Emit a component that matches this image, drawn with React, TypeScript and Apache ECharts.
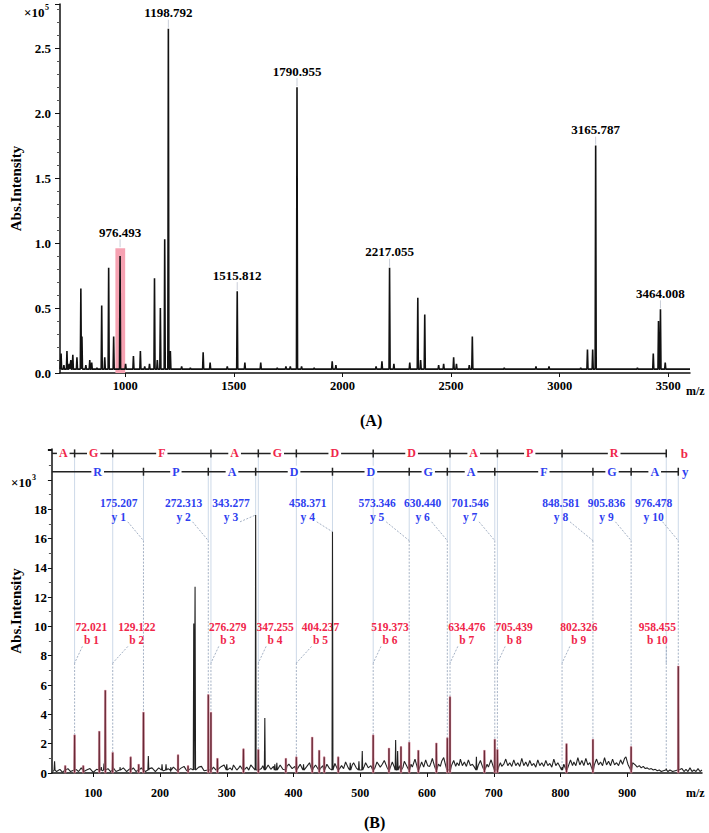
import React, { useEffect, useRef } from 'react';
import * as echarts from 'echarts';

const FONT = '"Liberation Serif", "Times New Roman", Times, serif';
const RED = '#f0264a';
const BLUE = '#2f3ff0';

// ---------------- Panel A : MS spectrum ----------------
const xTicksA = [1000, 1500, 2000, 2500, 3000, 3500];
const peaksA: [number, number][] = [
  [705, 0.15], [718, 0.06], [732, 0.17], [742, 0.07], [750, 0.1], [759, 0.14], [778, 0.12],
  [796, 0.65], [801, 0.28], [819, 0.06], [837, 0.1], [846, 0.08], [870, 0.04], [892, 0.52],
  [906, 0.12], [924, 0.81], [947, 0.28], [1002, 0.07], [1038, 0.13], [1070, 0.17],
  [1090, 0.05], [1112, 0.07], [1135, 0.73], [1148, 0.1], [1162, 0.5], [1182, 1.03], [1208, 0.17],
  [1260, 0.05], [1300, 0.04], [1359, 0.16], [1391, 0.08], [1470, 0.05], [1551, 0.08], [1624, 0.08],
  [1700, 0.04], [1740, 0.05], [1760, 0.05], [1812, 0.05], [1870, 0.04], [1953, 0.09], [1970, 0.06],
  [2155, 0.05], [2182, 0.09], [2237, 0.07], [2310, 0.08], [2347, 0.58], [2360, 0.1], [2379, 0.45],
  [2443, 0.06], [2466, 0.07], [2512, 0.12], [2525, 0.07], [2584, 0.06], [2598, 0.28], [2745, 0.04],
  [2891, 0.05], [2951, 0.05], [3006, 0.03], [3097, 0.04], [3128, 0.18], [3152, 0.18], [3358, 0.04],
  [3431, 0.15], [3455, 0.4], [3486, 0.08], [3555, 0.03],
];
const labelledA: [number, number][] = [
  [976.493, 0.9], [1198.792, 2.65], [1515.812, 0.63], [1790.955, 2.2],
  [2217.055, 0.81], [3165.787, 1.75], [3464.008, 0.49],
];
const highlightA: [number, number, number][] = [[955, 1000, 0.96]];

// ---------------- Panel B : MS/MS spectrum ----------------
const xTicksB = [100, 200, 300, 400, 500, 600, 700, 800, 900];
const sequence = ['A', 'G', 'F', 'A', 'G', 'D', 'D', 'A', 'P', 'R'];
const yLadder = ['R', 'P', 'A', 'D', 'D', 'G', 'A', 'F', 'G', 'A'];
const bIonMz = [72.021, 129.122, 276.279, 347.255, 404.237, 519.373, 634.476, 705.439, 802.326, 958.455];
const bIonInt = [2.6, 1.4, 4.15, 1.6, 1.1, 2.6, 5.2, 1.6, 0.4, 0.3];
const yIonMz = [175.207, 272.313, 343.277, 458.371, 573.346, 630.44, 701.546, 848.581, 905.836, 976.478];
const yIonInt = [4.15, 5.35, 17.6, 16.45, 2.1, 2.4, 2.3, 2.3, 1.8, 7.3];
const unmarkedIons = ['y3', 'y4', 'b9', 'b10'];
const markedPeaksB: [number, number][] = [
  [58, 0.5], [85, 0.5], [109, 2.85], [118, 5.65], [156, 1.1], [168, 0.6], [227, 1.25], [242, 0.5],
  [286, 1.0], [325, 1.65], [388.5, 1.0], [428, 2.45], [438.5, 1.55], [446, 1.1], [467, 1.1],
  [543, 1.7], [561, 1.8], [587, 1.55], [614, 2.05], [686, 1.55], [809, 2.0],
];
const otherPeaksB: [number, number][] = [
  [42, 0.8], [112, 0.4], [116, 0.65], [140, 0.4], [182.5, 1.15], [203, 0.6], [209, 0.6], [216, 0.4],
  [250.5, 10.2], [252.5, 12.7], [300, 0.6], [357, 3.75], [372, 0.6], [375, 0.7], [415, 0.6],
  [485, 0.7], [498, 0.8], [503, 1.5], [553, 2.25], [556, 1.5], [674, 1.1],
];
const noiseB: [number, number][] = [
  [40, 0.1], [45, 0.1], [50, 0.25], [54, 0.05], [58, 0.2], [62, 0.3], [66, 0.1], [74, 0.25], [78, 0.1],
  [82, 0.35], [86, 0.1], [90, 0.2], [95, 0.3], [100, 0.05], [105, 0.25], [114, 0.15], [122, 0.3],
  [126, 0.1], [130, 0.35], [134, 0.1], [140, 0.25], [145, 0.35], [150, 0.1], [155, 0.3], [160, 0.35],
  [164, 0.1], [168, 0.25], [172, 0.35], [178, 0.1], [184, 0.3], [188, 0.35], [193, 0.1], [198, 0.35],
  [205, 0.15], [212, 0.3], [216, 0.1], [220, 0.4], [226, 0.15], [232, 0.35], [236, 0.45], [240, 0.15],
  [246, 0.3], [258, 0.4], [262, 0.45], [266, 0.15], [278, 0.2], [280, 0.4], [284, 0.2], [288, 0.3],
  [292, 0.45], [296, 0.55], [300, 0.2], [305, 0.35], [308, 0.2], [310, 0.55], [315, 0.2], [318, 0.35],
  [320, 0.5], [324, 0.2], [330, 0.4], [333, 0.2], [336, 0.55], [352, 0.3], [354, 0.5], [362, 0.55],
  [366, 0.25], [370, 0.45], [380, 0.55], [384, 0.25], [390, 0.45], [393, 0.6], [398, 0.3], [402, 0.45],
  [406, 0.3], [410, 0.6], [413, 0.3], [420, 0.45], [424, 0.7], [430, 0.35], [433, 0.55], [440, 0.3],
  [444, 0.5], [450, 0.6], [454, 0.3], [462, 0.65], [465, 0.35], [472, 0.5], [475, 0.3], [478, 0.75],
  [482, 0.35], [488, 0.55], [490, 0.7], [494, 0.35], [506, 0.45], [508, 0.7], [512, 0.35], [516, 0.5],
  [522, 0.35], [525, 0.75], [530, 0.4], [533, 0.6], [536, 0.85], [540, 0.4], [546, 0.5], [548, 0.75],
  [551, 0.4], [559, 0.5], [564, 0.4], [566, 0.8], [570, 0.45], [576, 0.6], [578, 0.4], [582, 0.95],
  [585, 0.45], [590, 0.5], [592, 0.75], [595, 0.4], [598, 0.9], [601, 0.5], [604, 0.45], [606, 0.7],
  [608, 1.0], [611, 0.5], [617, 0.6], [620, 0.45], [622, 0.8], [625, 1.05], [628, 0.5], [637, 0.55],
  [640, 0.85], [643, 0.45], [645, 0.7], [648, 0.5], [650, 0.95], [653, 0.5], [656, 0.75], [659, 0.45],
  [662, 0.9], [665, 0.5], [668, 0.6], [671, 0.4], [677, 0.55], [680, 0.85], [683, 0.45], [690, 0.6],
  [692, 0.4], [696, 0.9], [708, 0.5], [710, 0.7], [712, 0.45], [715, 0.6], [718, 0.95], [721, 0.5],
  [724, 0.7], [727, 0.45], [730, 0.9], [733, 0.5], [736, 0.7], [739, 0.45], [742, 1.0], [745, 0.5],
  [748, 0.75], [751, 0.45], [754, 0.85], [757, 0.5], [760, 0.65], [763, 0.4], [766, 0.9], [769, 0.5],
  [772, 0.7], [775, 0.45], [778, 0.85], [781, 0.5], [784, 0.65], [787, 0.4], [790, 0.95], [793, 0.5],
  [796, 0.7], [799, 0.45], [805, 0.6], [812, 0.5], [815, 0.9], [818, 0.5], [820, 0.75], [823, 0.5],
  [826, 1.05], [829, 0.55], [832, 0.85], [835, 0.5], [838, 1.0], [841, 0.55], [844, 0.7], [851, 0.6],
  [854, 0.95], [857, 0.55], [860, 0.75], [863, 0.5], [866, 1.05], [869, 0.55], [872, 0.8], [875, 0.5],
  [878, 0.95], [881, 0.55], [884, 0.7], [887, 0.5], [890, 0.9], [893, 0.6], [896, 1.0], [898, 1.1],
  [901, 0.6], [908, 0.7], [912, 0.55], [915, 0.4], [918, 0.5], [921, 0.35], [924, 0.45], [927, 0.3],
  [930, 0.35], [933, 0.25], [936, 0.3], [939, 0.2], [942, 0.25], [945, 0.15], [948, 0.2], [951, 0.1],
  [954, 0.15], [961, 0.1], [964, 0.2], [968, 0.1], [982, 0.3], [985, 0.1], [988, 0.25], [991, 0.1],
  [994, 0.35], [997, 0.1], [1000, 0.2], [1003, 0.1], [1006, 0.3], [1009, 0.1], [1012, 0.2],
];

// layout constants
const X_MIN_A = 700, X_MAX_A = 3600, Y_MAX_A = 2.84;
const X_MIN_B = 38, X_MAX_B = 1012, Y_MAX_B = 22.1;
const GRID_B_W = 658;
const B_LEVEL = 21.8, Y_LEVEL = 20.55, B_CONN = 7.5, Y_CONN = 15.85, B_LAB = 9.52, Y_LAB = 17.95;
const LABEL_SPACING = 46;

function triangles(peaks: [number, number][], half: number, base: number) {
  const pts: number[][] = [];
  for (const [m, h] of peaks) pts.push([m - half, base], [m, h], [m + half, base]);
  return pts;
}

// place ion labels (in m/z units) so that neighbouring labels do not overlap
function placeLabels(mzs: number[], isB: boolean): number[] {
  const k = GRID_B_W / (X_MAX_B - X_MIN_B);
  const px = mzs.map((m) => (m - X_MIN_B) * k);
  const lab = px.map((p) => (isB ? p + 17 : p - 25));
  if (isB) {
    for (let i = 0; i < lab.length; i++) {
      if (lab[i] + 20 > GRID_B_W) lab[i] = px[i] - 9;
      if (i > 0 && lab[i] < lab[i - 1] + LABEL_SPACING && lab[i] > lab[i - 1]) lab[i] = lab[i - 1] + LABEL_SPACING;
    }
  } else {
    for (let i = lab.length - 2; i >= 0; i--) {
      if (lab[i] > lab[i + 1] - LABEL_SPACING) lab[i] = lab[i + 1] - LABEL_SPACING;
    }
  }
  return lab.map((p) => X_MIN_B + p / k);
}

const txt = (extra: any) => ({ fontFamily: FONT, fontWeight: 'bold', ...extra });

export default function App() {
  const ref = useRef<HTMLDivElement>(null);
  useEffect(() => {
    if (!ref.current) return;
    const chart = echarts.init(ref.current, undefined, { renderer: 'svg' });

    const specA = [[X_MIN_A, 0.03], ...triangles([...peaksA, ...labelledA], 2.5, 0.03), [X_MAX_A, 0.03]]
      .sort((a, b) => a[0] - b[0]);

    const bPeaks: [number, number][] = bIonMz.map((m, i) => [m, bIonInt[i]]);
    const yPeaks: [number, number][] = yIonMz.map((m, i) => [m, yIonInt[i]]);
    const specB = [...noiseB, ...triangles([...otherPeaksB, ...markedPeaksB, ...bPeaks, ...yPeaks], 0.7, 0.2)]
      .sort((a, b) => a[0] - b[0]);
    const marked: number[][] = [
      ...markedPeaksB,
      ...bPeaks.filter((_, i) => !unmarkedIons.includes('b' + (i + 1))),
      ...yPeaks.filter((_, i) => !unmarkedIons.includes('y' + (i + 1))),
    ];
    const bLab = placeLabels(bIonMz, true);
    const yLab = placeLabels(yIonMz, false);
    const ionData: number[][] = [
      ...bIonMz.map((m, i) => [m, bIonInt[i], 0, i, bLab[i]]),
      ...yIonMz.map((m, i) => [m, yIonInt[i], 1, i, yLab[i]]),
    ];
    const ladderData: number[][] = [];
    const bB = [X_MIN_B, ...bIonMz];
    const yB = [X_MIN_B, ...yIonMz];
    for (let i = 0; i < sequence.length; i++) ladderData.push([bB[i], bB[i + 1], 0, i]);
    for (let i = 0; i < yLadder.length; i++) ladderData.push([yB[i], yB[i + 1], 1, i]);

    const axisLine = { show: true, lineStyle: { color: '#111', width: 1.5 } };

    const option: any = {
      animation: false,
      backgroundColor: '#fff',
      grid: [
        { left: 56, top: 4, width: 634, height: 369 },
        { left: 44, top: 449, width: GRID_B_W, height: 324 },
      ],
      xAxis: [
        {
          type: 'value', gridIndex: 0, min: X_MIN_A, max: X_MAX_A,
          axisLine, splitLine: { show: false },
          axisTick: { show: true, customValues: xTicksA, length: 4, lineStyle: { color: '#111' } },
          axisLabel: { customValues: xTicksA, margin: 6, color: '#000', ...txt({ fontSize: 12.5 }), formatter: (v: number) => String(v) },
        },
        {
          type: 'value', gridIndex: 1, min: X_MIN_B, max: X_MAX_B,
          axisLine, splitLine: { show: false },
          axisTick: { show: true, customValues: xTicksB, length: 4, lineStyle: { color: '#111' } },
          axisLabel: { customValues: xTicksB, margin: 14, color: '#000', ...txt({ fontSize: 12 }), formatter: (v: number) => String(v) },
        },
      ],
      yAxis: [
        {
          type: 'value', gridIndex: 0, min: 0, max: Y_MAX_A, interval: 0.5,
          axisLine, splitLine: { show: false },
          axisTick: { show: true, length: 5, lineStyle: { color: '#111' } },
          minorTick: { show: true, splitNumber: 5, length: 3, lineStyle: { color: '#555' } },
          axisLabel: {
            margin: 9, color: '#000', ...txt({ fontSize: 13 }),
            formatter: (v: number) => (Math.abs(Math.round(v * 2) / 2 - v) < 1e-6 ? v.toFixed(1) : ''),
          },
          name: 'Abs.Intensity', nameLocation: 'middle', nameGap: 37,
          nameTextStyle: { color: '#000', ...txt({ fontSize: 15 }) },
        },
        {
          type: 'value', gridIndex: 1, min: 0, max: Y_MAX_B, interval: 2,
          axisLine, splitLine: { show: false },
          axisTick: { show: true, length: 4, lineStyle: { color: '#111' } },
          minorTick: { show: true, splitNumber: 2, length: 3, lineStyle: { color: '#555' } },
          axisLabel: {
            margin: 5, color: '#000', ...txt({ fontSize: 13 }),
            formatter: (v: number) => (v <= 18 && Math.abs(v % 2) < 1e-6 ? String(v) : ''),
          },
          name: 'Abs.Intensity', nameLocation: 'middle', nameGap: 27,
          nameTextStyle: { color: '#000', ...txt({ fontSize: 15 }) },
        },
      ],
      series: [
        {
          type: 'custom', xAxisIndex: 0, yAxisIndex: 0, z: 1, data: highlightA,
          renderItem: (_p: any, api: any) => {
            const a = api.coord([api.value(0), api.value(2)]);
            const b = api.coord([api.value(1), 0]);
            return { type: 'rect', shape: { x: a[0], y: a[1], width: b[0] - a[0], height: b[1] - a[1] }, style: { fill: '#f6a2b2' } };
          },
        },
        {
          type: 'line', xAxisIndex: 0, yAxisIndex: 0, z: 3, data: specA, showSymbol: false, symbol: 'none',
          lineStyle: { color: '#111', width: 1.6 }, clip: true, silent: true,
        },
        {
          type: 'custom', xAxisIndex: 0, yAxisIndex: 0, z: 4, data: labelledA,
          renderItem: (_p: any, api: any) => {
            const mz = api.value(0);
            let h = api.value(1);
            for (const [s, e, top] of highlightA) if (mz >= s && mz <= e) h = Math.max(h, top);
            const p = api.coord([mz, h]);
            return {
              type: 'group', children: [
                { type: 'line', shape: { x1: p[0], y1: p[1] - 1, x2: p[0], y2: p[1] - 9 }, style: { stroke: '#c9ced8', lineWidth: 1 } },
                {
                  type: 'text', x: p[0], y: p[1] - 16,
                  style: { text: mz.toFixed(3), fill: '#000', fontSize: 13, fontWeight: 'bold', fontFamily: FONT, align: 'center', verticalAlign: 'middle' },
                },
              ],
            };
          },
        },
        // ----- panel B -----
        {
          type: 'custom', xAxisIndex: 1, yAxisIndex: 1, z: 2, data: ionData,
          renderItem: (_params: any, api: any) => {
            const mz = api.value(0), h = api.value(1), isB = api.value(2) === 0, idx = api.value(3);
            const x = api.coord([mz, 0])[0];
            const labX = api.coord([api.value(4), 0])[0];
            const seqY = api.coord([mz, isB ? B_LEVEL : Y_LEVEL])[1];
            const connY = api.coord([mz, Math.max(isB ? B_CONN : Y_CONN, h)])[1];
            const peakY = api.coord([mz, h])[1];
            const labY = api.coord([mz, isB ? B_LAB : Y_LAB])[1];
            const side = labX > x ? -1 : 1;
            const sx = labX + side * 9;
            const sy = labY + (isB ? 13 : 12);
            const dotted = { stroke: '#8d9db5', lineWidth: 0.8, lineDash: [2, 1.5] };
            return {
              type: 'group', children: [
                { type: 'line', shape: { x1: x, y1: seqY, x2: x, y2: connY }, style: { stroke: '#cdd9e8', lineWidth: 1 } },
                { type: 'line', shape: { x1: sx, y1: sy, x2: x, y2: connY }, style: dotted },
                { type: 'line', shape: { x1: x, y1: connY, x2: x, y2: peakY }, style: dotted },
                {
                  type: 'text', x: labX, y: labY,
                  style: {
                    text: mz.toFixed(3) + '\n' + (isB ? 'b' : 'y') + ' ' + (idx + 1),
                    fill: isB ? RED : BLUE, fontSize: 11.5, fontWeight: 'bold', fontFamily: FONT,
                    align: 'center', verticalAlign: 'middle', lineHeight: 13.5,
                  },
                },
              ],
            };
          },
        },
        {
          type: 'line', xAxisIndex: 1, yAxisIndex: 1, z: 3, data: specB, showSymbol: false, symbol: 'none',
          lineStyle: { color: '#222', width: 1.1 }, clip: true, silent: true,
        },
        {
          type: 'custom', xAxisIndex: 1, yAxisIndex: 1, z: 4, data: marked,
          renderItem: (_p: any, api: any) => {
            const top = api.coord([api.value(0), api.value(1)]);
            const base = api.coord([api.value(0), 0]);
            return {
              type: 'rect', shape: { x: top[0] - 0.9, y: top[1], width: 1.8, height: base[1] - top[1] },
              style: { fill: '#5a1c28', stroke: '#f2a3b6', lineWidth: 0.5 },
            };
          },
        },
        {
          type: 'custom', xAxisIndex: 1, yAxisIndex: 1, z: 5, data: ladderData,
          renderItem: (_p: any, api: any) => {
            const s = api.value(0), e = api.value(1), row = api.value(2), i = api.value(3);
            const level = row === 0 ? B_LEVEL : Y_LEVEL;
            const p1 = api.coord([s, level]), p2 = api.coord([e, level]);
            const letters = row === 0 ? sequence : yLadder;
            const color = row === 0 ? RED : BLUE;
            const children: any[] = [
              { type: 'line', shape: { x1: p1[0], y1: p1[1], x2: p2[0], y2: p2[1] }, style: { stroke: '#222', lineWidth: 1.5 } },
              { type: 'line', shape: { x1: p2[0], y1: p2[1] - 4, x2: p2[0], y2: p2[1] + 4 }, style: { stroke: '#222', lineWidth: 1.5 } },
              {
                type: 'text', x: (p1[0] + p2[0]) / 2, y: p1[1],
                style: {
                  text: letters[i], fill: color, fontSize: 12, fontWeight: 'bold', fontFamily: FONT,
                  align: 'center', verticalAlign: 'middle', backgroundColor: '#fff', padding: [0, 2],
                },
              },
            ];
            if (i === letters.length - 1) {
              children.push({
                type: 'text', x: p2[0] + (row === 0 ? 18 : 7), y: p1[1],
                style: { text: row === 0 ? 'b' : 'y', fill: color, fontSize: 13, fontWeight: 'bold', fontFamily: FONT, align: 'center', verticalAlign: 'middle' },
              });
            }
            return { type: 'group', children };
          },
        },
      ],
      graphic: [
        { type: 'text', x: 24, y: 6, style: { text: '×10', fill: '#000', fontSize: 13, fontWeight: 'bold', fontFamily: FONT } },
        { type: 'text', x: 45, y: 3, style: { text: '5', fill: '#000', fontSize: 8, fontWeight: 'bold', fontFamily: FONT } },
        { type: 'text', x: 11, y: 476, style: { text: '×10', fill: '#000', fontSize: 13, fontWeight: 'bold', fontFamily: FONT } },
        { type: 'text', x: 32, y: 473, style: { text: '3', fill: '#000', fontSize: 8, fontWeight: 'bold', fontFamily: FONT } },
        { type: 'text', x: 686, y: 385, style: { text: 'm/z', fill: '#000', fontSize: 12, fontWeight: 'bold', fontFamily: FONT } },
        { type: 'text', x: 686, y: 787, style: { text: 'm/z', fill: '#000', fontSize: 12, fontWeight: 'bold', fontFamily: FONT } },
        { type: 'text', x: 360, y: 412, style: { text: '(A)', fill: '#000', fontSize: 16, fontWeight: 'bold', fontFamily: FONT } },
        { type: 'text', x: 364, y: 814, style: { text: '(B)', fill: '#000', fontSize: 16, fontWeight: 'bold', fontFamily: FONT } },
      ],
    };
    chart.setOption(option);
    return () => chart.dispose();
  }, []);
  return <div ref={ref} style={{ position: 'fixed', left: 0, top: 0, width: 709, height: 833 }} />;
}
